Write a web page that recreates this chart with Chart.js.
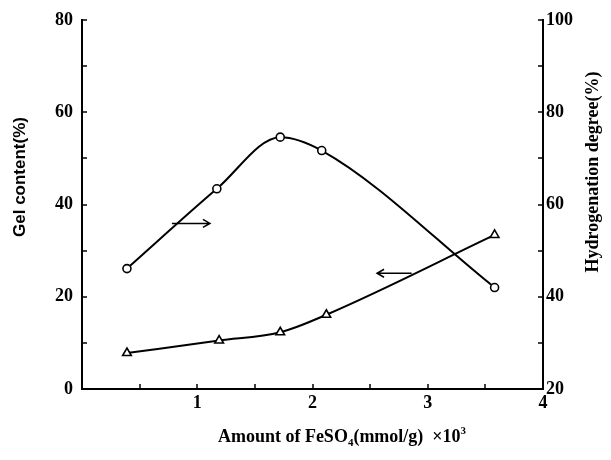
<!DOCTYPE html>
<html>
<head>
<meta charset="utf-8">
<script src="https://cdn.jsdelivr.net/npm/chart.js@4.4.0/dist/chart.umd.min.js"></script>
<style>
  html, body { margin: 0; padding: 0; background: #fff; }
  #wrap { width: 611px; height: 460px; }
</style>
</head>
<body>
<div id="wrap"><canvas id="gelChart"></canvas></div>
<script>
// FeSO4 amount (mmol/g x10^3) of each sample, one list per curve
const feso4Hydro = [0.39, 1.17, 1.72, 2.08, 3.58];
const hydrogenationDegree = [46.1, 63.4, 74.6, 71.7, 42.0];
const feso4Gel = [0.39, 1.19, 1.72, 2.12, 3.58];
const gelContent = [7.8, 10.5, 12.3, 16.1, 33.4];

// labelled ticks (minor ticks come from the step size)
const xTickLabels = [1, 2, 3, 4];
const gelTickLabels = [0, 20, 40, 60, 80];
const hydroTickLabels = [20, 40, 60, 80, 100];

// little arrows telling which axis a curve belongs to: [xFrom, xTo, y]
const hydroArrow = [0.78, 1.11, 55.9];
const gelArrow = [2.86, 2.56, 25.1];

const SERIF = "'Liberation Serif', 'Times New Roman', serif";
const SANS = "'Liberation Sans', Arial, sans-serif";
const tickFont = { family: SERIF, size: 18, weight: 'bold' };

// ================================
// PLUGINS
// ================================

// tick marks pointing into the plot, like the printed figure
const innerTicks = {
    id: 'innerTicks',
    afterDraw(chart) {
        const { ctx, chartArea: a } = chart;
        const len = 5;
        ctx.save();
        ctx.strokeStyle = '#000';
        ctx.lineWidth = 1.5;
        ctx.beginPath();
        chart.scales.x.ticks.forEach(t => {
            const px = Math.round(chart.scales.x.getPixelForValue(t.value));
            ctx.moveTo(px, a.bottom);
            ctx.lineTo(px, a.bottom - len);
        });
        chart.scales.y.ticks.forEach(t => {
            const py = Math.round(chart.scales.y.getPixelForValue(t.value));
            ctx.moveTo(a.left, py);
            ctx.lineTo(a.left + len, py);
        });
        chart.scales.y2.ticks.forEach(t => {
            const py = Math.round(chart.scales.y2.getPixelForValue(t.value));
            ctx.moveTo(a.right, py);
            ctx.lineTo(a.right - len, py);
        });
        ctx.stroke();
        ctx.restore();
    }
};

function drawArrow(ctx, x1, x2, y) {
    const dir = Math.sign(x2 - x1);
    ctx.beginPath();
    ctx.moveTo(x1, y);
    ctx.lineTo(x2, y);
    ctx.moveTo(x2 - dir * 7, y - 4);
    ctx.lineTo(x2, y);
    ctx.lineTo(x2 - dir * 7, y + 4);
    ctx.stroke();
}

const axisArrows = {
    id: 'axisArrows',
    afterDatasetsDraw(chart) {
        const { ctx, scales } = chart;
        ctx.save();
        ctx.strokeStyle = '#000';
        ctx.lineWidth = 1.5;
        drawArrow(ctx,
            scales.x.getPixelForValue(hydroArrow[0]),
            scales.x.getPixelForValue(hydroArrow[1]),
            scales.y2.getPixelForValue(hydroArrow[2]));
        drawArrow(ctx,
            scales.x.getPixelForValue(gelArrow[0]),
            scales.x.getPixelForValue(gelArrow[1]),
            scales.y.getPixelForValue(gelArrow[2]));
        ctx.restore();
    }
};

// axis titles drawn by hand (sub/superscript, right title reads upward)
const axisTitles = {
    id: 'axisTitles',
    afterDraw(chart) {
        const { ctx } = chart;
        const big = `bold 18px ${SERIF}`;
        const small = `bold 11px ${SERIF}`;
        ctx.save();
        ctx.fillStyle = '#000';
        ctx.textBaseline = 'middle';
        ctx.textAlign = 'center';

        ctx.save();
        ctx.font = `bold 17px ${SANS}`;
        ctx.translate(20, 177);
        ctx.rotate(-Math.PI / 2);
        ctx.fillText('Gel content(%)', 0, 0);
        ctx.restore();

        ctx.save();
        ctx.font = big;
        ctx.translate(593, 172);
        ctx.rotate(-Math.PI / 2);
        ctx.fillText('Hydrogenation degree(%)', 0, 0);
        ctx.restore();

        // Amount of FeSO4(mmol/g) ×10^3
        const parts = [
            ['Amount of FeSO', big, 0],
            ['4', small, 4],
            ['(mmol/g)  ×10', big, 0],
            ['3', small, -8]
        ];
        let total = 0;
        parts.forEach(p => { ctx.font = p[1]; total += ctx.measureText(p[0]).width; });
        let x = 342 - total / 2;
        ctx.textAlign = 'left';
        ctx.textBaseline = 'alphabetic';
        const base = 442;
        parts.forEach(p => {
            ctx.font = p[1];
            ctx.fillText(p[0], x, base + p[2]);
            x += ctx.measureText(p[0]).width;
        });
        ctx.restore();
    }
};

// ================================
// CHART
// ================================

const ctx = document.getElementById('gelChart');

new Chart(ctx, {
    type: 'line',
    data: {
        datasets: [
            {
                label: 'Hydrogenation degree',
                yAxisID: 'y2',
                data: feso4Hydro.map((x, i) => ({ x, y: hydrogenationDegree[i] })),
                borderColor: '#000',
                borderWidth: 2,
                cubicInterpolationMode: 'monotone',
                pointStyle: 'circle',
                pointRadius: 4,
                pointBorderWidth: 1.6,
                pointBackgroundColor: '#fff',
                pointBorderColor: '#000',
                fill: false
            },
            {
                label: 'Gel content',
                yAxisID: 'y',
                data: feso4Gel.map((x, i) => ({ x, y: gelContent[i] })),
                borderColor: '#000',
                borderWidth: 2,
                cubicInterpolationMode: 'monotone',
                pointStyle: 'triangle',
                pointRadius: 5,
                pointBorderWidth: 1.6,
                pointBackgroundColor: '#fff',
                pointBorderColor: '#000',
                fill: false
            }
        ]
    },
    options: {
        responsive: true,
        maintainAspectRatio: false,
        animation: false,
        layout: { padding: { top: 20, left: 0, right: 0, bottom: 0 } },
        plugins: {
            legend: { display: false },
            tooltip: { enabled: false }
        },
        scales: {
            x: {
                type: 'linear',
                position: 'bottom',
                min: 0,
                max: 4,
                afterFit: s => { s.height = 71; },
                grid: { display: false, drawTicks: false },
                border: { display: true, color: '#000', width: 2 },
                ticks: {
                    stepSize: 0.5,
                    autoSkip: false,
                    maxRotation: 0,
                    padding: 4,
                    color: '#000',
                    font: tickFont,
                    callback: v => xTickLabels.includes(v) ? String(v) : ''
                }
            },
            y: {
                type: 'linear',
                position: 'left',
                min: 0,
                max: 80,
                afterFit: s => { s.width = 82; },
                grid: { display: false, drawTicks: false },
                border: { display: true, color: '#000', width: 2 },
                ticks: {
                    stepSize: 10,
                    autoSkip: false,
                    padding: 9,
                    color: '#000',
                    font: tickFont,
                    callback: v => gelTickLabels.includes(v) ? String(v) : ''
                }
            },
            y2: {
                type: 'linear',
                position: 'right',
                min: 20,
                max: 100,
                afterFit: s => { s.width = 68; },
                grid: { display: false, drawTicks: false },
                border: { display: true, color: '#000', width: 2 },
                ticks: {
                    stepSize: 10,
                    autoSkip: false,
                    padding: 3,
                    color: '#000',
                    font: tickFont,
                    callback: v => hydroTickLabels.includes(v) ? String(v) : ''
                }
            }
        }
    },
    plugins: [innerTicks, axisArrows, axisTitles]
});
</script>
</body>
</html>
